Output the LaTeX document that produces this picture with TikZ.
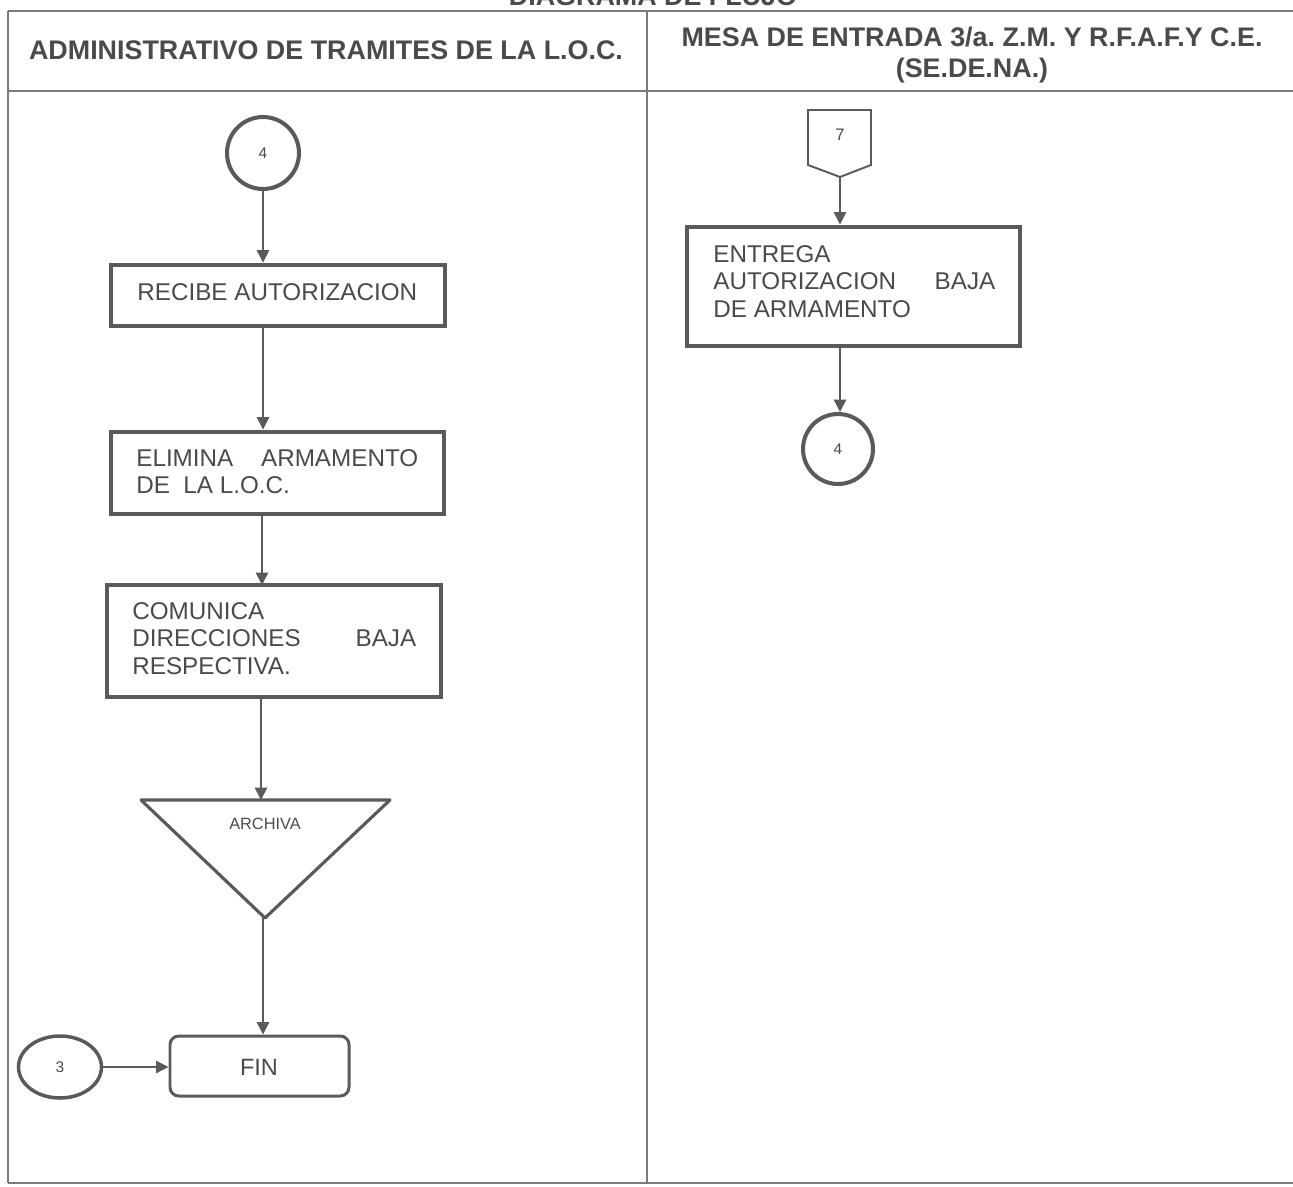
\documentclass[tikz,border=0pt]{standalone}
\usepackage{fontspec}
\setmainfont{Liberation Sans}
\usetikzlibrary{arrows.meta,fit,shapes.geometric}
\definecolor{ln}{HTML}{5A5A5A}
\definecolor{tx}{HTML}{4A4A4A}
\definecolor{tbl}{HTML}{7A7A7A}
\frenchspacing
\begin{document}
\begin{tikzpicture}[x=0.02cm,y=-0.02cm,
  conn/.style={draw=ln,line width=0.9pt,-{Triangle[width=7pt,length=7pt]}},
  thinconn/.style={draw=ln,line width=0.6pt,-{Triangle[width=7pt,length=7pt]}},
  procbox/.style={draw=ln,line width=2.8pt,inner sep=0pt},
  txt/.style={text=tx,inner sep=0pt,font=\fontsize{13.8}{15.7}\selectfont},
  hdr/.style={text=tx,inner sep=0pt,font=\fontsize{15.3}{17}\selectfont\bfseries},
  small/.style={text=tx,inner sep=0pt,font=\fontsize{8.8}{9}\selectfont},
  tline/.style={draw=tbl,line width=0.9pt}
]
\useasboundingbox (0,0) rectangle (1293,1186);
\clip (0,0) rectangle (1293,1186);

% table
\draw[tline] (8,11) -- (1293,11);
\draw[tline] (8,91) -- (1293,91);
\draw[tline] (8,1183) -- (1293,1183);
\draw[tline] (8,11) -- (8,1183);
\draw[tline] (647,11) -- (647,1183);

% title & headers
\node[hdr,anchor=base] (title) at (653,6) {DIAGRAMA DE FLUJO};
\node[hdr,anchor=base] (h1) at (326,60) {ADMINISTRATIVO DE TRAMITES DE LA L.O.C.};
\node[hdr,anchor=base] (h2a) at (972,47) {MESA DE ENTRADA 3/a. Z.M. Y R.F.A.F.Y C.E.};
\node[hdr,anchor=base] (h2b) at (972,77) {(SE.DE.NA.)};

% left column
\node[circle,draw=ln,line width=2.3pt,minimum size=1.44cm,small] (c4a) at (263,153) {4};

\node[procbox,fit={(111,265)(445,326)}] (recibe) {};
\node[txt,anchor=base west] (recibet) at (137,300) {RECIBE AUTORIZACION};

\node[procbox,fit={(111,432)(444,514)}] (elimina) {};
\node[txt,anchor=base west] (eliminat) at (136,466) {\parbox[t]{5.64cm}{ELIMINA\hfill ARMAMENTO\\DE\ \ LA L.O.C.}};

\node[procbox,fit={(107,585)(441,697)}] (comunica) {};
\node[txt,anchor=base west] (comunicat) at (132,619) {\parbox[t]{5.68cm}{COMUNICA\\DIRECCIONES\hfill BAJA\\RESPECTIVA.}};

\draw[draw=ln,line width=1.8pt,line join=round] (141,800) -- (390,800) -- (265,918) -- cycle;
\coordinate (tritop) at (261,800);
\coordinate (triapex) at (263,918);
\node[text=tx,inner sep=0pt,font=\fontsize{9.3}{10}\selectfont,anchor=base] (archiva) at (265,829) {ARCHIVA};

\node[draw=ln,line width=1.7pt,rounded corners=5pt,fit={(170,1036)(349,1096)},inner sep=0pt] (fin) {};
\node[text=tx,inner sep=0pt,font=\fontsize{13.4}{14}\selectfont,anchor=base] (fint) at (259,1075) {FIN};

\node[ellipse,draw=ln,line width=2.0pt,minimum width=1.66cm,minimum height=1.24cm,small] (c3) at (60,1067) {3};

\draw[conn] (c4a.south) -- (recibe.north -| c4a.south);
\draw[conn] (recibe.south -| c4a.south) -- (elimina.north -| c4a.south);
\draw[conn] (262,514) -- (262,585);
\draw[conn] (comunica.south -| tritop) -- (tritop);
\draw[conn] (triapex) -- (fin.north -| triapex);
\draw[thinconn] (c3.east) -- (fin.west |- c3.east);

% right column
\draw[draw=ln,line width=1.1pt] (808,110) -- (871,110) -- (871,165) -- (840,177) -- (808,165) -- cycle;
\coordinate (c7b) at (840,177);
\node[text=tx,inner sep=0pt,font=\fontsize{9.5}{10}\selectfont] (c7) at (840,135) {7};

\node[procbox,fit={(687,227)(1020,346)}] (entrega) {};
\node[txt,anchor=base west] (entregat) at (713,262) {\parbox[t]{5.64cm}{ENTREGA\\AUTORIZACION\hfill BAJA\\DE ARMAMENTO}};

\node[circle,draw=ln,line width=2.3pt,minimum size=1.40cm,small] (c4b) at (838,449) {4};

\draw[conn] (c7b) -- (entrega.north -| c7b);
\draw[conn] (entrega.south -| c7b) -- (c4b.north -| c7b);
\end{tikzpicture}
\end{document}
